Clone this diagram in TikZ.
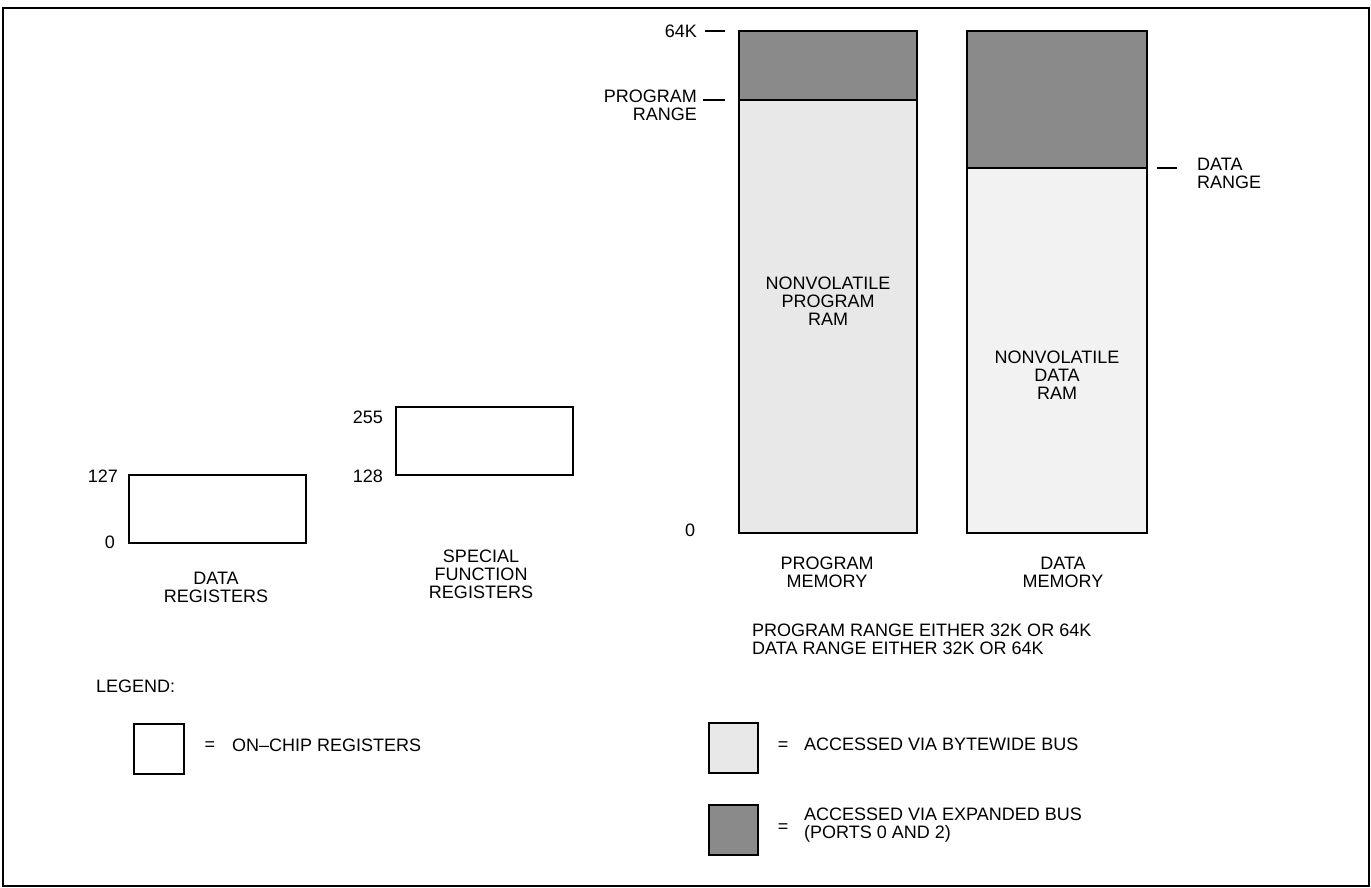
\documentclass[tikz,border=0pt]{standalone}
\usepackage{fontspec}
\setmainfont{Liberation Sans}
\begin{document}
\begin{tikzpicture}[x=1pt,y=-1pt,
  txt/.style={inner sep=0pt, font=\fontsize{18}{18}\selectfont},
  lightfill/.style={fill=black!9},
  darkfill/.style={fill=black!46},
  membox/.style={draw, line width=2pt, inner sep=0pt, anchor=north west},
  regbox/.style={draw, line width=1.5pt, inner sep=0pt, anchor=north west},
  tick/.style={line width=1.2pt}]
\useasboundingbox (0,0) rectangle (1371,888);
\draw[line width=2pt] (3,8) rectangle (1369,886);

% program memory
\fill[lightfill] (738,30) rectangle (916,532);
\fill[darkfill] (738,30) rectangle (916,100);
\node[membox, minimum width=178pt, minimum height=502pt] (pm) at (738,30) {};
\coordinate (pmsplitL) at (738,100);
\coordinate (pmsplitR) at (916,100);
\draw[line width=2pt] (pmsplitL) -- (pmsplitR);

% data memory
\fill[fill=black!5] (966,30) rectangle (1146,532);
\fill[darkfill] (966,30) rectangle (1146,168);
\node[membox, minimum width=180pt, minimum height=502pt] (dm) at (966,30) {};
\coordinate (dmsplitL) at (966,168);
\coordinate (dmsplitR) at (1146,168);
\draw[line width=2pt] (dmsplitL) -- (dmsplitR);

% labels memory
\node[txt, anchor=east] (l64k) at (697,31) {64K};
\coordinate (t64a) at (705,31); \coordinate (t64b) at (725,31);
\draw[tick] (t64a) -- (t64b);
\node[txt, anchor=east, align=right] (lpr) at (697,105) {PROGRAM\\RANGE};
\coordinate (tpra) at (703,100); \coordinate (tprb) at (725,100);
\draw[tick] (tpra) -- (tprb);
\node[txt] (lzero) at (690,530) {0};
\node[txt, align=center] (npr) at (828,301) {NONVOLATILE\\PROGRAM\\RAM};
\node[txt, align=center] (ndr) at (1057,375) {NONVOLATILE\\DATA\\RAM};
\coordinate (tdra) at (1157,168); \coordinate (tdrb) at (1177,168);
\draw[tick] (tdra) -- (tdrb);
\node[txt, anchor=west, align=left] (ldr) at (1197,173) {DATA\\RANGE};
\node[txt, align=center] (lpm) at (827,572) {PROGRAM\\MEMORY};
\node[txt, align=center] (ldm) at (1063,572) {DATA\\MEMORY};
\node[txt, anchor=west, align=left] (note) at (752,639) {PROGRAM RANGE EITHER 32K OR 64K\\DATA RANGE EITHER 32K OR 64K};

% registers
\node[regbox, minimum width=177pt, minimum height=68pt] (dreg) at (128,474) {};
\node[txt, anchor=east] (l127) at (118,476) {127};
\node[txt, anchor=east] (l0) at (115,542) {0};
\node[txt, align=center] (ldreg) at (216,587) {DATA\\REGISTERS};
\node[regbox, minimum width=177pt, minimum height=68pt] (sfr) at (395,406) {};
\node[txt, anchor=east] (l255) at (383,417) {255};
\node[txt, anchor=east] (l128) at (383,476) {128};
\node[txt, align=center] (lsfr) at (481,574) {SPECIAL\\FUNCTION\\REGISTERS};

% legend
\node[txt, anchor=west] (leg) at (96,686) {LEGEND:};
\node[membox, line width=1.8pt, minimum width=50pt, minimum height=50pt] (lgw) at (133,723) {};
\node[txt] (eq1) at (210,746) {=};
\node[txt, anchor=west] (tw) at (232,745) {ON--CHIP REGISTERS};
\node[membox, lightfill, line width=2pt, minimum width=49pt, minimum height=50pt] (lgl) at (708,722) {};
\node[txt] (eq2) at (783,746) {=};
\node[txt, anchor=west] (tl) at (804,744) {ACCESSED VIA BYTEWIDE BUS};
\node[membox, darkfill, line width=2pt, minimum width=49pt, minimum height=50pt] (lgd) at (708,804) {};
\node[txt] (eq3) at (783,828) {=};
\node[txt, anchor=west, align=left] (td) at (804,825) {ACCESSED VIA EXPANDED BUS\\(PORTS 0 AND 2)};
\end{tikzpicture}
\end{document}
